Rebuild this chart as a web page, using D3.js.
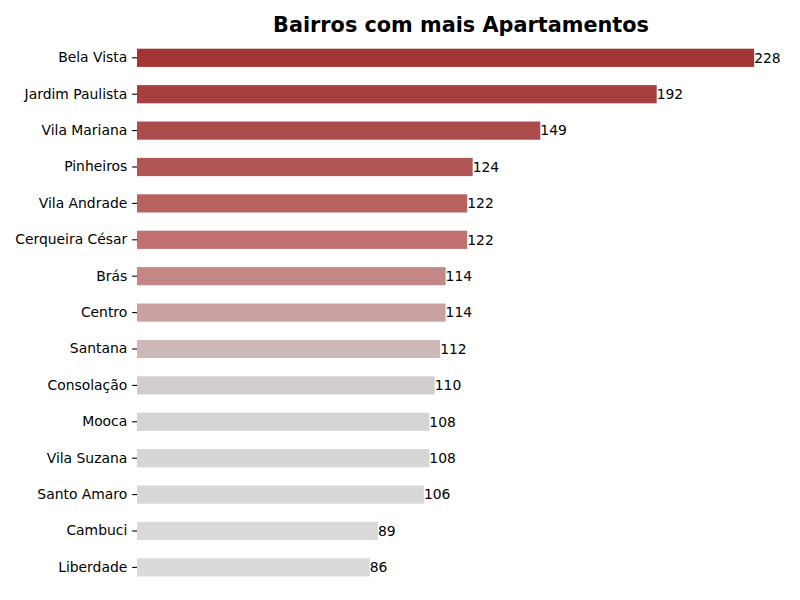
<!DOCTYPE html>
<html>
<head>
<meta charset="utf-8">
<script src="https://cdn.jsdelivr.net/npm/d3@7"></script>
<style>
  body { margin: 0; background: #fff; }
  text { font-family: "DejaVu Sans", sans-serif; }
</style>
</head>
<body>
<div id="chart"></div>
<script>
let bairros = ["Bela Vista", "Jardim Paulista", "Vila Mariana", "Pinheiros", "Vila Andrade",
  "Cerqueira César", "Brás", "Centro", "Santana", "Consolação", "Mooca", "Vila Suzana",
  "Santo Amaro", "Cambuci", "Liberdade"]
let apartamentos = [228, 192, 149, 124, 122, 122, 114, 114, 112, 110, 108, 108, 106, 89, 86]

// palette, darkest first
let palette = ["#a23434", "#a73f3f", "#ac4b4b", "#b25555", "#b96262", "#c07070", "#c48787",
  "#c9a1a1", "#ceb7b7", "#d3cccc", "#d5d5d5", "#d6d6d6", "#d7d7d7", "#d9d9d9", "#dadada"]

let data = bairros.map((b, i) => ({ name: b, value: apartamentos[i] }))

let svgW = 800
let svgH = 600

let margin = { left: 137, right: 15, top: 30.5, bottom: 6 }

let x = d3.scaleLinear()
  .domain([0, d3.max(apartamentos) * 1.05])
  .range([margin.left, svgW - margin.right])

let y = d3.scaleBand()
  .domain(bairros)
  .range([margin.top, margin.top + 36.4 * 15.5])
  .paddingInner(0.5)
  .paddingOuter(0.5)

let color = d3.scaleOrdinal()
  .domain(bairros)
  .range(palette)

let svg = d3.select("#chart")
  .append("svg")
  .attr("width", svgW)
  .attr("height", svgH)

svg.append("text")
  .attr("x", (margin.left + svgW - margin.right) / 2)
  .attr("y", 32)
  .attr("text-anchor", "middle")
  .attr("font-size", "20.8px")
  .attr("font-weight", "bold")
  .text("Bairros com mais Apartamentos")

let yAxis = d3.axisLeft(y)
  .tickSize(4.86)
  .tickPadding(4.86)

let yg = svg.append("g")
  .attr("transform", `translate(${margin.left},0)`)
  .call(yAxis)

yg.select(".domain").remove()
yg.selectAll(".tick line").attr("stroke", "#000").attr("stroke-width", 1.1)
yg.selectAll(".tick text")
  .attr("font-size", "13.9px")
  .attr("fill", "#000")
  .style("font-family", "DejaVu Sans")

svg.selectAll("rect.bar")
  .data(data)
  .enter()
  .append("rect")
  .attr("class", "bar")
  .attr("x", x(0))
  .attr("y", d => y(d.name))
  .attr("width", d => x(d.value) - x(0))
  .attr("height", y.bandwidth())
  .attr("fill", d => color(d.name))

svg.selectAll("text.val")
  .data(data)
  .enter()
  .append("text")
  .attr("class", "val")
  .attr("x", d => x(d.value))
  .attr("y", d => y(d.name) + y.bandwidth() / 2)
  .attr("dy", "0.35em")
  .attr("font-size", "13.9px")
  .attr("fill", "#000")
  .text(d => d.value)
</script>
</body>
</html>
